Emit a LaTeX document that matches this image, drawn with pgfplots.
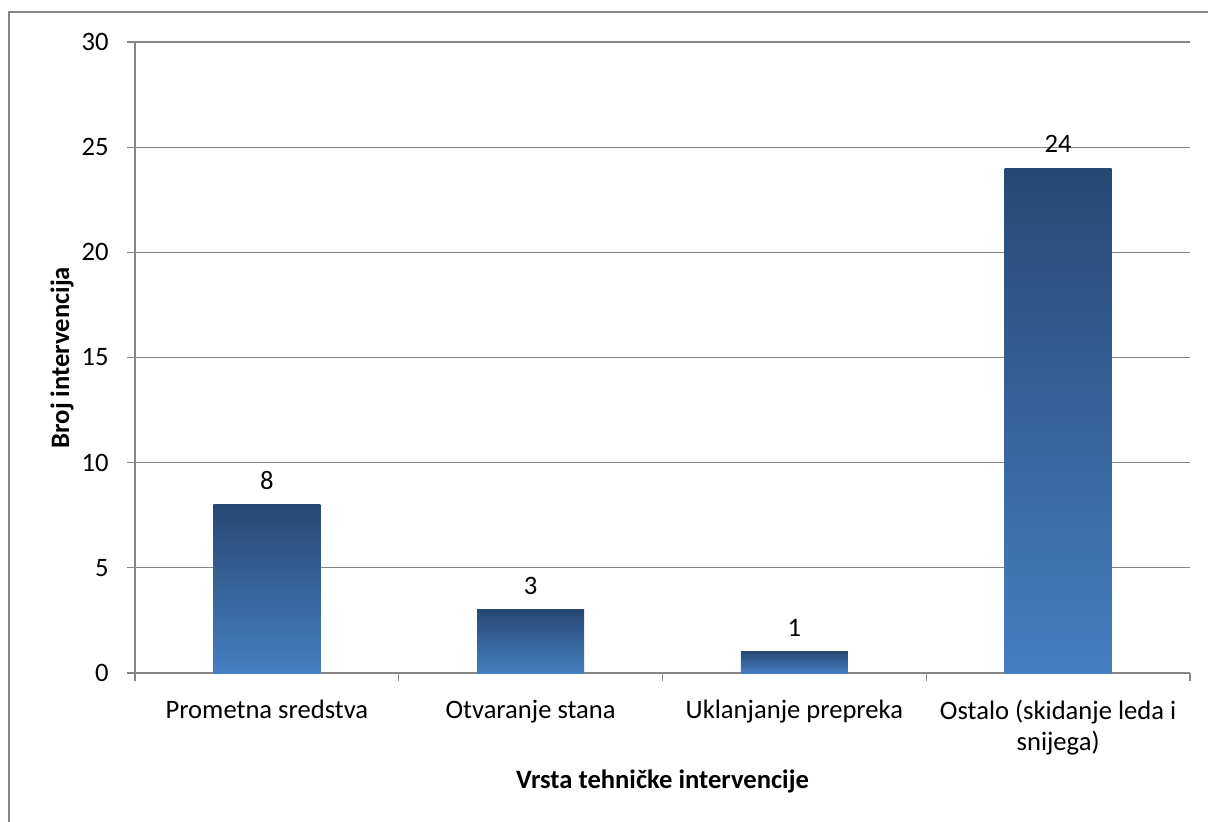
\documentclass[border=0pt]{standalone}
\usepackage{fontspec}
\setmainfont{Carlito}
\usepackage{pgfplots}
\pgfplotsset{compat=1.18}
\definecolor{gridgray}{RGB}{134,134,134}
\definecolor{bartop}{RGB}{38,73,116}
\definecolor{barbot}{RGB}{70,126,194}

\pgfplotsset{
  gradbar/.style={
      ybar,
      bar shift=0pt,
      bar width=0.405,
      draw=none,
      top color=bartop,
      bottom color=barbot,
      nodes near coords,
      every node near coord/.append style={font=\fontsize{13.3pt}{15.5pt}\selectfont, text=black, anchor=center, yshift=12pt},
    },
}

\begin{document}
\fontsize{13.3pt}{15.5pt}\selectfont
\begin{tikzpicture}
  \useasboundingbox (0,0) rectangle (604pt,410.5pt);
  \draw[gridgray, line width=0.6pt] (4.5pt,-10pt) rectangle (620pt,404.5pt);
  \begin{axis}[
      at={(67.5pt,74pt)},
      anchor=south west,
      scale only axis,
      width=527.5pt,
      height=315.5pt,
      ymin=0, ymax=30,
      ytick={0,5,...,30},
      xmin=-0.5, xmax=3.5,
      xtick={0,1,2,3},
      xticklabels={Prometna sredstva, Otvaranje stana, Uklanjanje prepreka, Ostalo (skidanje leda i\\snijega)},
      minor xtick={-0.5,0.5,1.5,2.5,3.5},
      axis lines*=left,
      xtick pos=bottom,
      ytick pos=left,
      axis line style={gridgray, line width=0.6pt},
      tick align=outside,
      major tick length=4pt,
      minor tick length=4pt,
      every tick/.style={gridgray, line width=0.6pt},
      every major x tick/.append style={draw=none},
      ymajorgrids=true,
      grid style={gridgray, line width=0.6pt},
      /pgf/number format/assume math mode=true,
      tick label style={font=\fontsize{13.3pt}{15.5pt}\selectfont, text=black},
      xticklabel style={align=center, yshift=-5pt},
      yticklabel style={xshift=-4.6pt},
      xlabel={\textbf{Vrsta tehničke intervencije}},
      ylabel={\textbf{Broj intervencija}},
      every axis x label/.style={at={(axis description cs:0.5,0)}, yshift=-54pt, anchor=center, font=\fontsize{13.3pt}{15.5pt}\selectfont\bfseries},
      every axis y label/.style={at={(axis description cs:0,0.5)}, xshift=-36.5pt, rotate=90, anchor=center, font=\fontsize{13.3pt}{15.5pt}\selectfont\bfseries},
    ]
    \addplot[gradbar] coordinates {(0, 8)};
    \addplot[gradbar] coordinates {(1, 3)};
    \addplot[gradbar] coordinates {(2, 1)};
    \addplot[gradbar] coordinates {(3, 24)};
  \end{axis}
\end{tikzpicture}
\end{document}
